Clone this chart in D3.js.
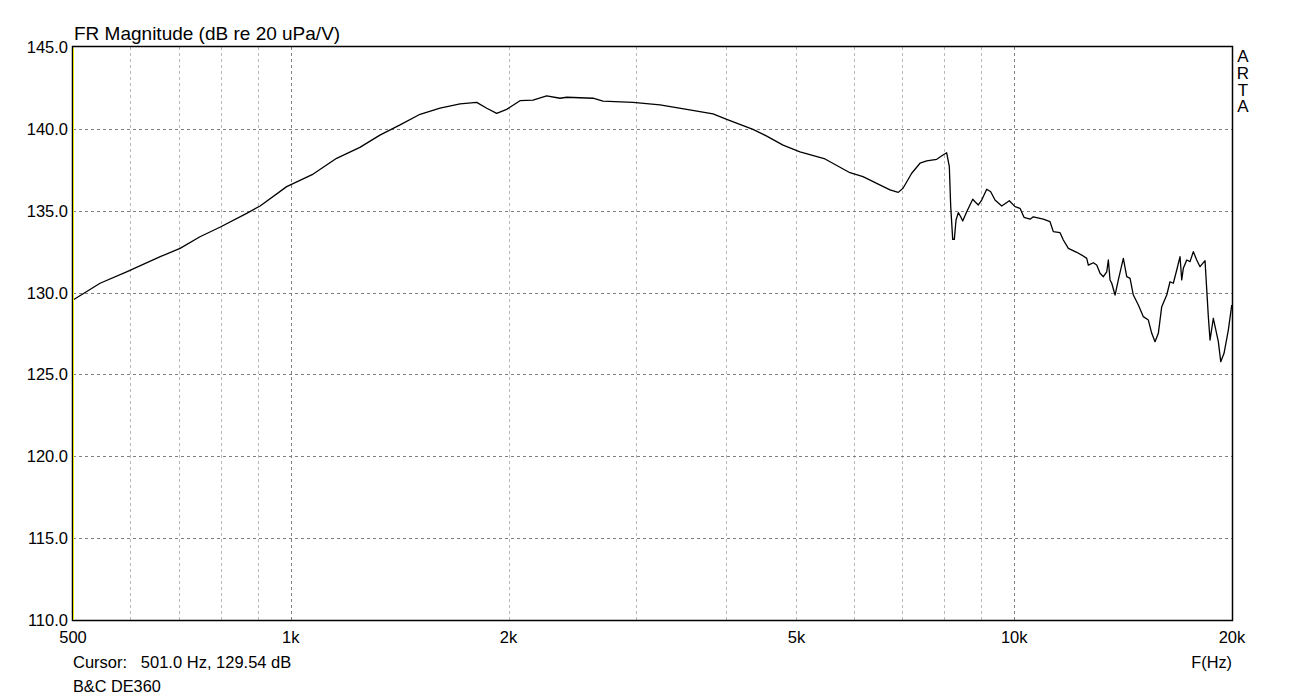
<!DOCTYPE html>
<html>
<head>
<meta charset="utf-8">
<script src="https://cdn.jsdelivr.net/npm/d3@7"></script>
<style>
  html, body { margin: 0; padding: 0; background: #fff; }
  svg { display: block; }
  text { font-family: "Liberation Sans", Arial, sans-serif; fill: #000; }
</style>
</head>
<body>
<svg id="chart" width="1304" height="700"></svg>
<script>
// ---- data ----
const freqHz = [500, 545, 593, 660, 703, 749, 798, 869, 907, 987, 1074, 1157, 1246, 1328, 1416, 1509, 1608, 1714, 1807, 1866, 1926, 1988, 2074, 2162, 2258, 2356, 2407, 2617, 2701, 2972, 3239, 3526, 3834, 4005, 4354, 4549, 4791, 5057, 5476, 5929, 6180, 6455, 6734, 6914, 7019, 7216, 7409, 7569, 7814, 7972, 8066, 8134, 8170, 8222, 8264, 8309, 8370, 8434, 8488, 8597, 8763, 8827, 8920, 9017, 9162, 9279, 9407, 9610, 9845, 10025, 10186, 10317, 10516, 10627, 10970, 11207, 11325, 11570, 11692, 11880, 12201, 12397, 12596, 12660, 12863, 13003, 13141, 13280, 13424, 13493, 13566, 13640, 13784, 13929, 14081, 14153, 14307, 14458, 14610, 14845, 15083, 15325, 15491, 15655, 15820, 15992, 16249, 16420, 16593, 16774, 16951, 17043, 17130, 17316, 17499, 17684, 17876, 18065, 18355, 18549, 18649, 18846, 19149, 19296, 19499, 19768, 19984];
const magDb = [129.55, 130.57, 131.27, 132.19, 132.70, 133.41, 133.99, 134.84, 135.29, 136.47, 137.24, 138.20, 138.87, 139.62, 140.24, 140.89, 141.26, 141.52, 141.62, 141.26, 140.95, 141.19, 141.72, 141.76, 142.01, 141.87, 141.93, 141.87, 141.70, 141.62, 141.46, 141.19, 140.91, 140.58, 139.97, 139.56, 139.01, 138.60, 138.16, 137.32, 137.08, 136.67, 136.27, 136.12, 136.37, 137.29, 137.90, 138.04, 138.14, 138.40, 138.54, 137.69, 135.25, 133.25, 133.25, 134.43, 134.88, 134.63, 134.37, 134.94, 135.70, 135.55, 135.35, 135.65, 136.31, 136.16, 135.65, 135.29, 135.61, 135.25, 135.15, 134.60, 134.48, 134.63, 134.48, 134.33, 133.72, 133.66, 133.21, 132.70, 132.46, 132.29, 132.09, 131.68, 131.82, 131.68, 131.18, 130.97, 131.27, 131.99, 130.77, 130.57, 129.85, 130.77, 131.68, 132.09, 130.97, 130.87, 129.85, 129.24, 128.53, 128.32, 127.51, 127.00, 127.51, 129.14, 129.85, 130.66, 130.57, 131.38, 132.19, 130.77, 131.48, 131.99, 131.89, 132.50, 131.99, 131.58, 131.95, 128.53, 127.10, 128.43, 127.00, 125.78, 126.29, 127.71, 129.24];

const yTicks = [110, 115, 120, 125, 130, 135, 140, 145];
const xLabelTicks = [500, 1000, 2000, 5000, 10000, 20000];
const xLabelText = ["500", "1k", "2k", "5k", "10k", "20k"];
const xMinorTicks = [600, 700, 800, 900, 2000, 3000, 4000, 5000, 6000, 7000, 8000, 9000, 20000];
const xMajorTicks = [1000, 10000];

const titleText = "FR Magnitude (dB re 20 uPa/V)";
const cursorText = "Cursor:   501.0 Hz, 129.54 dB";
const nameText = "B&C DE360";
const xAxisTitle = "F(Hz)";
const brandLetters = ["A", "R", "T", "A"];

// ---- layout ----
const L = 73, R = 1232, T = 47, B = 620;
const svg = d3.select("#chart");
const x = d3.scaleLog().domain([500, 20000]).range([L, R]);
const y = d3.scaleLinear().domain([110, 145]).range([B, T]);

svg.append("rect").attr("width", 1304).attr("height", 700).attr("fill", "#fff");

const px = v => Math.round(v) + 0.5;

// minor vertical grid
svg.append("g").selectAll("line").data(xMinorTicks).join("line")
  .attr("x1", d => px(x(d))).attr("x2", d => px(x(d)))
  .attr("y1", T).attr("y2", B)
  .attr("stroke", "#b9b9b9").attr("stroke-width", 1).attr("stroke-dasharray", "3,3");

// major vertical grid
svg.append("g").selectAll("line").data(xMajorTicks).join("line")
  .attr("x1", d => px(x(d))).attr("x2", d => px(x(d)))
  .attr("y1", T).attr("y2", B)
  .attr("stroke", "#808080").attr("stroke-width", 1).attr("stroke-dasharray", "3,3");

// horizontal grid
svg.append("g").selectAll("line").data(yTicks.filter(d => d > 110 && d < 145)).join("line")
  .attr("x1", L).attr("x2", R)
  .attr("y1", d => px(y(d))).attr("y2", d => px(y(d)))
  .attr("stroke", "#808080").attr("stroke-width", 1).attr("stroke-dasharray", "3,3");

// curve
const line = d3.line().x((d, i) => x(freqHz[i])).y(d => y(d)).curve(d3.curveLinear);
svg.append("path").datum(magDb)
  .attr("d", line)
  .attr("fill", "none").attr("stroke", "#000").attr("stroke-width", 1.3)
  .attr("stroke-linejoin", "round");

// frame
svg.append("rect")
  .attr("x", L - 0.5).attr("y", T - 0.5)
  .attr("width", R - L + 1).attr("height", B - T + 1)
  .attr("fill", "none").attr("stroke", "#000").attr("stroke-width", 1.5);
svg.append("line")
  .attr("x1", L + 0.5).attr("x2", L + 0.5).attr("y1", T + 1).attr("y2", B)
  .attr("stroke", "#e6e600").attr("stroke-width", 1);

// y labels
svg.append("g").selectAll("text").data(yTicks).join("text")
  .attr("x", 68).attr("y", d => y(d) + 6)
  .attr("text-anchor", "end").attr("font-size", 16.5)
  .text(d => d.toFixed(1));

// x labels
svg.append("g").selectAll("text").data(xLabelTicks).join("text")
  .attr("x", d => x(d)).attr("y", 643)
  .attr("text-anchor", "middle").attr("font-size", 16.5)
  .text((d, i) => xLabelText[i]);

// title & footer
svg.append("text").attr("x", 74).attr("y", 40).attr("font-size", 19).text(titleText);
svg.append("text").attr("x", 73).attr("y", 668).attr("font-size", 16.5)
  .attr("xml:space", "preserve").style("white-space", "pre").text(cursorText);
svg.append("text").attr("x", 73).attr("y", 692).attr("font-size", 16.3).text(nameText);
svg.append("text").attr("x", 1232).attr("y", 668).attr("font-size", 16.3)
  .attr("text-anchor", "end").text(xAxisTitle);

// ARTA
svg.append("g").selectAll("text").data(brandLetters).join("text")
  .attr("x", 1243).attr("y", (d, i) => 62 + i * 16.8)
  .attr("text-anchor", "middle").attr("font-size", 17)
  .text(d => d);
</script>
</body>
</html>
